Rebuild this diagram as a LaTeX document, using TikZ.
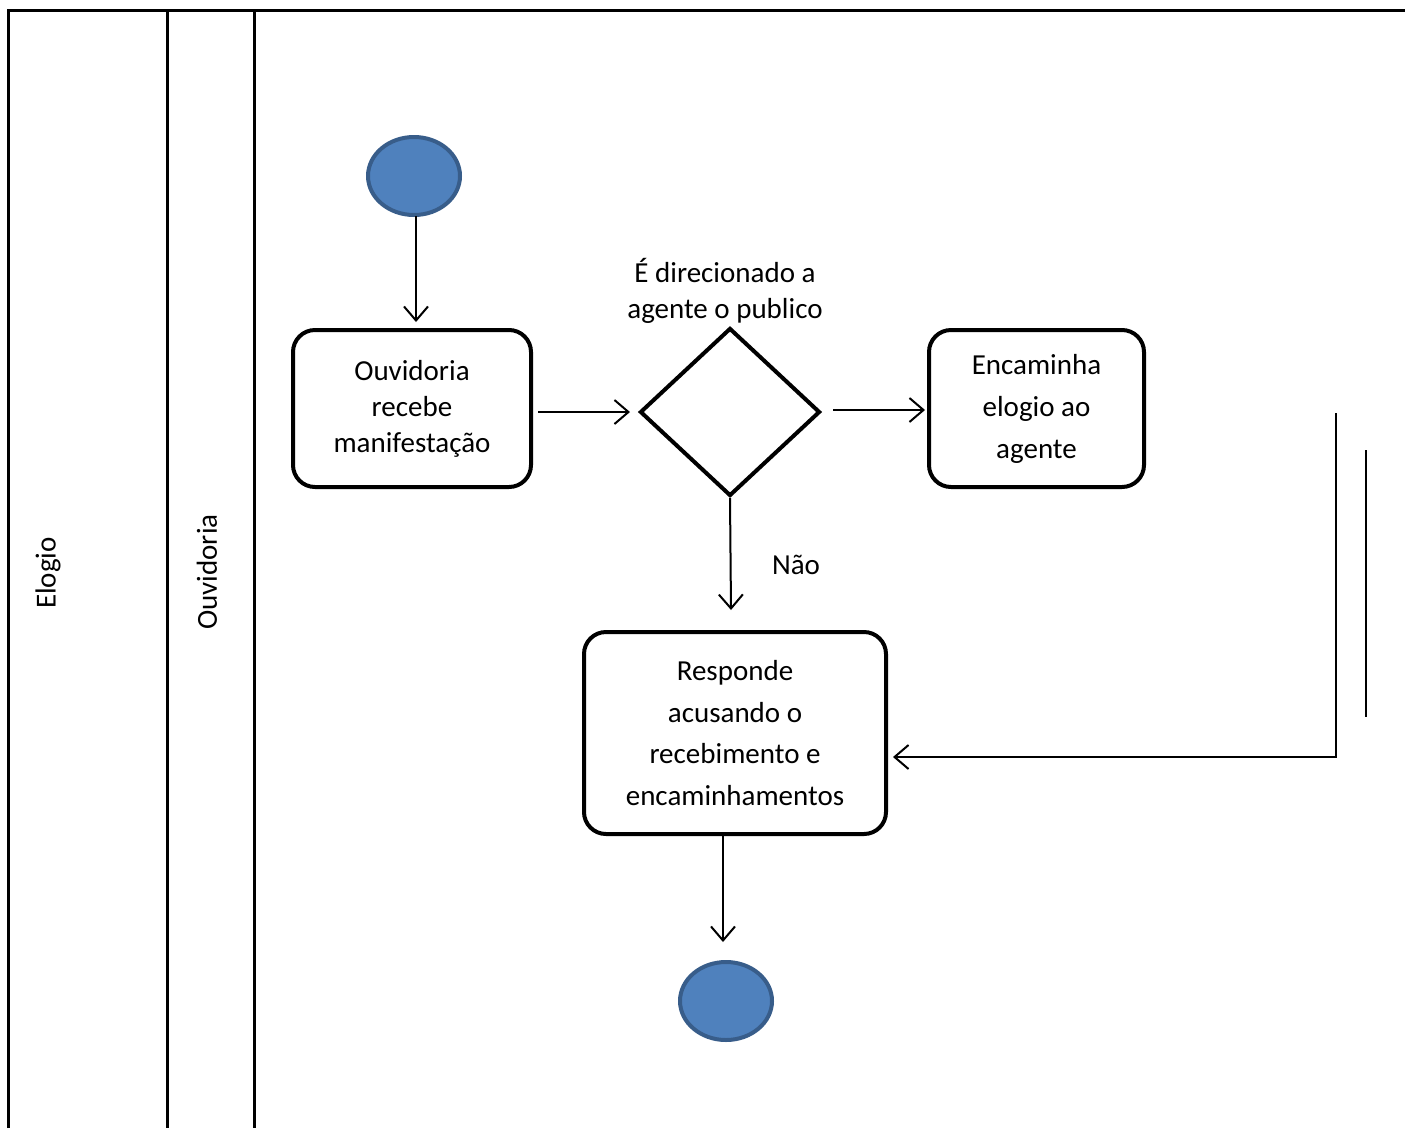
\documentclass[tikz,border=0pt]{standalone}
\usepackage{fontspec}
\setmainfont{Carlito}
\usetikzlibrary{shapes.geometric,arrows.meta}
\definecolor{cfill}{HTML}{4F81BD}
\definecolor{cdraw}{HTML}{385D8A}
\begin{document}
\begin{tikzpicture}[x=1pt,y=-1pt,
  lane/.style={line width=3pt,black},
  box/.style={draw,line width=4pt,rounded corners=22pt,align=center,inner sep=0pt,font=\fontsize{29pt}{36pt}\selectfont},
  circ/.style={ellipse,draw=cdraw,fill=cfill,line width=4pt,minimum width=92pt,minimum height=78pt,inner sep=0pt},
  arr/.style={line width=2pt,-{Straight Barb[length=14pt,width=24pt,line width=2pt]}},
  lbl/.style={font=\fontsize{29pt}{36pt}\selectfont,align=center,inner sep=0pt}]
\useasboundingbox (0,0) rectangle (1405,1128);
\fill[white] (0,0) rectangle (1405,1128);
% swimlane frame
\coordinate (tl) at (8,10);
\coordinate (tr) at (1405,10);
\coordinate (bl) at (8,1128);
\coordinate (l1t) at (167,10);
\coordinate (l1b) at (167,1128);
\coordinate (l2t) at (254,10);
\coordinate (l2b) at (254,1128);
\draw[lane] (bl) -- (tl) -- (tr);
\draw[lane] (l1t) -- (l1b);
\draw[lane] (l2t) -- (l2b);
\node[lbl,rotate=90] (lane1) at (48,573) {Elogio};
\node[lbl,rotate=90] (lane2) at (207,572) {Ouvidoria};
% nodes
\node[circ] (start) at (414,176) {};
\node[box,minimum width=238pt,minimum height=157pt] (b1) at (412,408.5) {Ouvidoria\\recebe\\manifestação};
\node[diamond,draw,line width=4pt,minimum width=180pt,minimum height=168pt,inner sep=0pt] (dec) at (730,412) {};
\node[lbl] (declbl) at (725,291) {É direcionado a\\agente o publico};
\node[box,minimum width=215pt,minimum height=157pt,font=\fontsize{29pt}{42pt}\selectfont] (b2) at (1036.5,408.5) {Encaminha\\elogio ao\\agente};
\node[box,minimum width=302pt,minimum height=202pt,font=\fontsize{29pt}{41.5pt}\selectfont] (b3) at (735,733) {Responde\\acusando o\\recebimento e\\encaminhamentos};
\node[circ] (end) at (726,1001) {};
% connectors
\coordinate (a1s) at (416,216);
\coordinate (a1e) at (416,322);
\draw[arr] (a1s) -- (a1e);
\coordinate (a2s) at (538,412);
\coordinate (a2e) at (630,412);
\draw[arr] (a2s) -- (a2e);
\coordinate (a3s) at (833,410);
\coordinate (a3e) at (925,410);
\draw[arr] (a3s) -- (a3e);
\coordinate (a4e) at (731,610);
\draw[arr] (dec.south) -- (a4e);
\node[lbl] (nao) at (796,565) {Não};
\coordinate (r1) at (1336,413);
\coordinate (r2) at (1336,757);
\coordinate (r3) at (893,757);
\draw[arr] (r1) -- (r2) -- (r3);
\coordinate (s1) at (1366,450);
\coordinate (s2) at (1366,717);
\draw[line width=2pt] (s1) -- (s2);
\coordinate (a5s) at (723,836);
\coordinate (a5e) at (723,942);
\draw[arr] (a5s) -- (a5e);
\end{tikzpicture}
\end{document}
